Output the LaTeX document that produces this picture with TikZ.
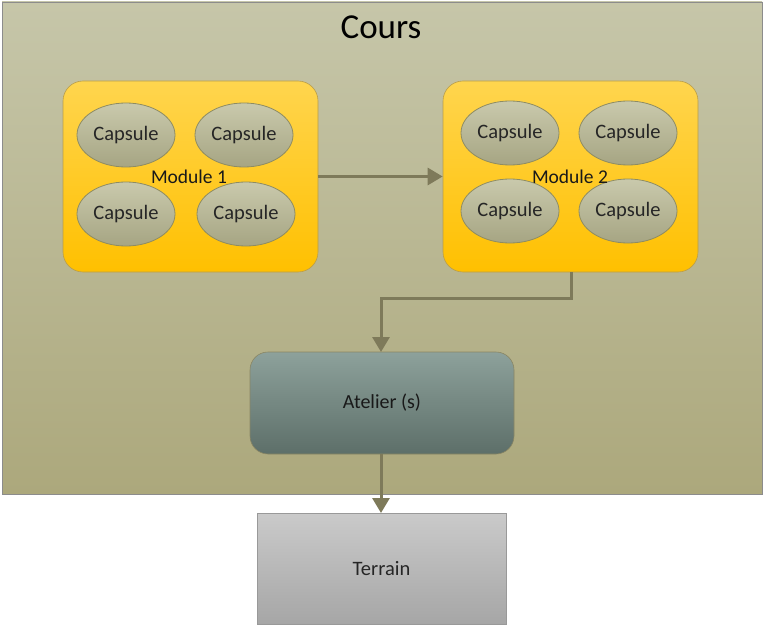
\documentclass[tikz,border=0pt]{standalone}
\usepackage{fontspec}
\setmainfont{Carlito}
\usetikzlibrary{arrows.meta,shapes.geometric,positioning}
\definecolor{arrowc}{HTML}{7E7A5A}
\definecolor{coursTop}{HTML}{C6C6A9}
\definecolor{coursBot}{HTML}{ACA87C}
\definecolor{modTop}{HTML}{FFD54E}
\definecolor{modBot}{HTML}{FFC000}
\definecolor{capTop}{HTML}{C9C9AC}
\definecolor{capBot}{HTML}{A6A583}
\definecolor{capBorder}{HTML}{8E8C62}
\definecolor{atTop}{HTML}{8DA19B}
\definecolor{atBot}{HTML}{5D6F69}
\definecolor{terTop}{HTML}{CACACA}
\definecolor{terBot}{HTML}{A6A6A6}
\tikzset{
  coursbox/.style={draw=black!45, line width=0.8pt, top color=coursTop, bottom color=coursBot, minimum width=760pt, minimum height=492pt, inner sep=0pt},
  modbox/.style={draw=modBot!60!black!70, line width=0.6pt, rounded corners=20pt, top color=modTop, bottom color=modBot, minimum width=255pt, minimum height=191pt, inner sep=0pt},
  capsule/.style={ellipse, draw=capBorder, line width=0.8pt, top color=capTop, bottom color=capBot, minimum width=98pt, minimum height=64pt, inner sep=0pt, font=\fontsize{20.5}{24}\selectfont, text=black!85},
  atbox/.style={draw=coursBot!80!black, line width=0.6pt, rounded corners=18pt, top color=atTop, bottom color=atBot, minimum width=264pt, minimum height=102pt, inner sep=0pt, font=\fontsize{20}{24}\selectfont, text=black!90},
  terbox/.style={draw=black!40, line width=0.8pt, top color=terTop, bottom color=terBot, minimum width=249pt, minimum height=111pt, inner sep=0pt, font=\fontsize{20.5}{24}\selectfont, text=black!85},
  lbl/.style={font=\fontsize{19.5}{23}\selectfont, text=black!90, inner sep=0pt},
  conn/.style={draw=arrowc, line width=3pt, -{Triangle[length=15pt,width=17pt]}}
}
\begin{document}
\begin{tikzpicture}[x=1pt,y=-1pt]
\useasboundingbox (0,0) rectangle (768,631);
\fill[white] (0,0) rectangle (768,631);
\node[coursbox] (cours) at (382,248) {};
\node[font=\fontsize{35}{40}\selectfont, inner sep=0pt] (title) at (381,27) {Cours};

\node[modbox] (m1) at (190.5,176.5) {};
\node[modbox] (m2) at (570.5,176.5) {};

\node[capsule] (c11) at (126,135) {Capsule};
\node[capsule] (c12) at (244,135) {Capsule};
\node[capsule] (c13) at (126,214) {Capsule};
\node[capsule] (c14) at (246,214) {Capsule};
\node[lbl] (l1) at (189,177) {Module 1};

\node[capsule] (c21) at (510,133) {Capsule};
\node[capsule] (c22) at (628,133) {Capsule};
\node[capsule] (c23) at (510,211) {Capsule};
\node[capsule] (c24) at (628,211) {Capsule};
\node[lbl] (l2) at (570,177) {Module 2};

\node[atbox] (at) at (382,403) {Atelier (s)};
\node[terbox] (ter) at (381.5,568.5) {Terrain};

\coordinate (m2b) at (571,272);
\coordinate (bend1) at (571,298);
\coordinate (bend2) at (381,298);
\coordinate (attop) at (381,352);
\coordinate (atbot) at (381,454);
\coordinate (tertop) at (381,513);

\draw[conn] (m1.east) -- (m2.west);
\draw[conn] (m2b) -- (bend1) -- (bend2) -- (attop);
\draw[conn] (atbot) -- (tertop);
\end{tikzpicture}
\end{document}
